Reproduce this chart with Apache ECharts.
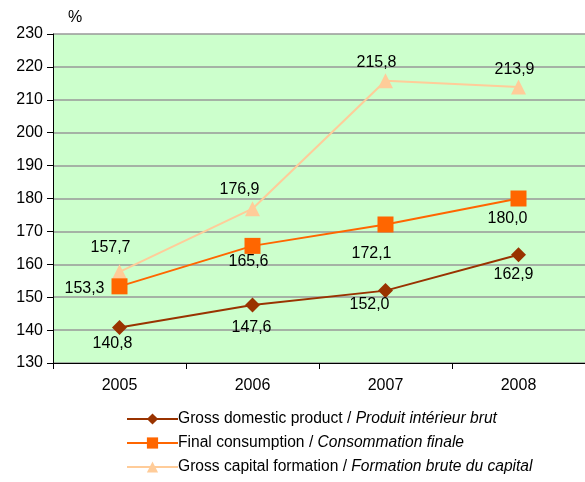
<!DOCTYPE html>
<html>
<head>
<meta charset="utf-8">
<script src="https://cdn.jsdelivr.net/npm/echarts@6/dist/echarts.min.js"></script>
<style>
  html, body { margin: 0; padding: 0; background: #fff; }
  #main { width: 585px; height: 482px; }
</style>
</head>
<body>
<div id="main"></div>
<script>
var years = ['2005', '2006', '2007', '2008']
var gdp = [140.8, 147.6, 152.0, 162.9]
var finalConsumption = [153.3, 165.6, 172.1, 180.0]
var capitalFormation = [157.7, 176.9, 215.8, 213.9]
var seriesNames = [
  ['Gross domestic product', 'Produit intérieur brut'],
  ['Final consumption', 'Consommation finale'],
  ['Gross capital formation', 'Formation brute du capital']
]

// label offsets from the point, per series
var gdpOffsets = [[-7, 16], [-1, 22], [-16, 14], [-5, 20]]
var fcOffsets = [[-35, 2], [-4, 16], [-14, 29], [-11, 20]]
var gcfOffsets = [[-9, -24], [-13, -19], [-9, -18], [-4, -17]]

var FONT = 'Liberation Sans, Arial, sans-serif'

function fmt (v) {
  return v.toFixed(1).replace('.', ',')
}

function buildData (values, offsets) {
  return values.map(function (v, i) {
    return {
      value: v,
      label: { offset: offsets[i] }
    }
  })
}

var chart = echarts.init(document.getElementById('main'))
var labelStyle = {
  show: true,
  position: 'inside',
  color: '#000',
  fontSize: 16,
  fontFamily: FONT,
  formatter: function (p) { return fmt(p.value) }
}

var option = {
  animation: false,
  title: {
    text: '%',
    left: 63,
    top: 5,
    textStyle: { fontSize: 16, fontWeight: 'normal', color: '#000', fontFamily: FONT }
  },
  grid: {
    left: 53,
    top: 34,
    width: 542,
    height: 329,
    show: true,
    backgroundColor: '#CCFFCC',
    borderWidth: 0
  },
  legend: {
    orient: 'vertical',
    left: 121,
    top: 406,
    itemWidth: 51,
    itemHeight: 14,
    itemGap: 8,
    data: seriesNames.map(function (n) { return n[0] + ' / ' + n[1] }),
    formatter: function (name) {
      var parts = name.split(' / ')
      return parts[0] + ' / {it|' + parts[1] + '}'
    },
    textStyle: {
      fontSize: 15.6,
      color: '#000',
      padding: [0, 0, 0, -5],
      fontFamily: FONT,
      rich: {
        it: { fontStyle: 'italic', fontSize: 15.6, color: '#000', fontFamily: FONT }
      }
    }
  },
  xAxis: {
    type: 'category',
    data: years,
    boundaryGap: true,
    axisLine: { lineStyle: { color: '#000', width: 1 } },
    axisTick: { show: true, length: 6, lineStyle: { color: '#000' } },
    axisLabel: { color: '#000', fontSize: 16, margin: 15, fontFamily: FONT },
    splitLine: { show: false }
  },
  yAxis: {
    type: 'value',
    min: 130,
    max: 230,
    interval: 10,
    axisLine: { show: true, lineStyle: { color: '#000', width: 1 } },
    axisTick: { show: true, length: 6, lineStyle: { color: '#000' } },
    axisLabel: { color: '#000', fontSize: 16, margin: 10, fontFamily: FONT },
    splitLine: { show: true, lineStyle: { color: '#999', width: 1.5 } }
  },
  series: [
    {
      name: seriesNames[0][0] + ' / ' + seriesNames[0][1],
      type: 'line',
      data: buildData(gdp, gdpOffsets),
      symbol: 'diamond',
      symbolSize: 15,
      lineStyle: { color: '#993300', width: 2 },
      itemStyle: { color: '#993300' },
      label: labelStyle,
      z: 4
    },
    {
      name: seriesNames[1][0] + ' / ' + seriesNames[1][1],
      type: 'line',
      data: buildData(finalConsumption, fcOffsets),
      symbol: 'rect',
      symbolSize: 16,
      lineStyle: { color: '#FF6600', width: 2 },
      itemStyle: { color: '#FF6600' },
      label: labelStyle,
      z: 3
    },
    {
      name: seriesNames[2][0] + ' / ' + seriesNames[2][1],
      type: 'line',
      data: buildData(capitalFormation, gcfOffsets),
      symbol: 'triangle',
      symbolSize: 15,
      lineStyle: { color: '#FFCC99', width: 2 },
      itemStyle: { color: '#FFCC99' },
      label: labelStyle,
      z: 2
    }
  ]
}
chart.setOption(option)
</script>
</body>
</html>
